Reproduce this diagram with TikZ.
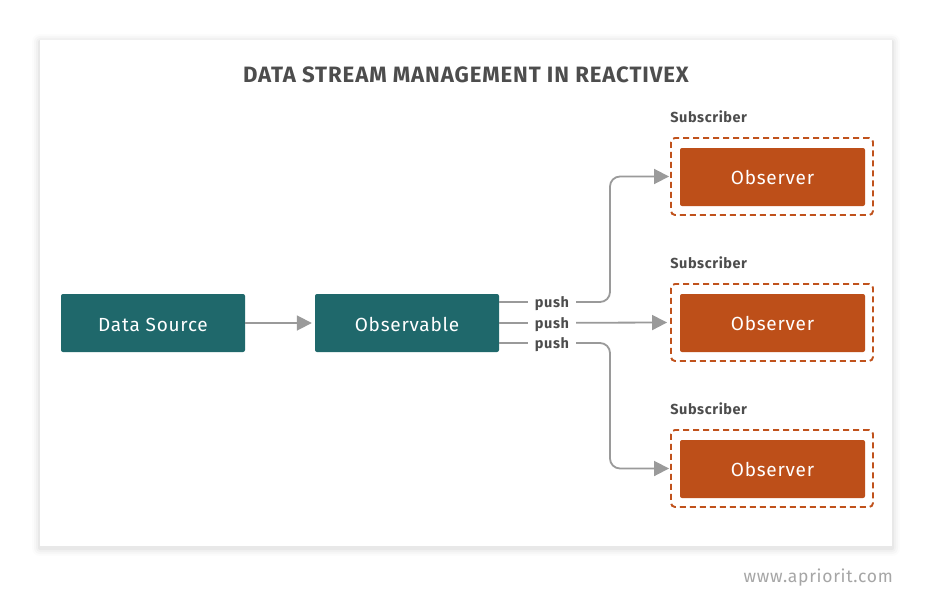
\documentclass[tikz,border=0pt]{standalone}
\usepackage{fontspec}
\setmainfont{Fira Sans}[LetterSpace=4]
\usetikzlibrary{arrows.meta,positioning,calc}
\definecolor{teal1}{HTML}{1F686B}
\definecolor{rust}{HTML}{BD4F19}
\definecolor{dashc}{HTML}{C0521C}
\definecolor{linec}{HTML}{9A9A9A}
\definecolor{txt}{HTML}{4D4D4D}
\tikzset{
  tealbox/.style={draw=none,fill=teal1,rounded corners=2pt,minimum width=184pt,minimum height=58pt,text=white,font=\fontsize{19}{22}\selectfont,text height=17pt,text depth=0pt},
  obsbox/.style={draw=none,fill=rust,rounded corners=2pt,minimum width=185pt,minimum height=58pt,text=white,font=\fontsize{19}{22}\selectfont},
  subbox/.style={draw=dashc,dash pattern=on 6pt off 4pt,line width=1.9pt,rounded corners=4pt,minimum width=202pt,minimum height=77pt},
  sublabel/.style={text=txt,font=\bfseries\fontsize{14.5}{17}\selectfont,anchor=base west,inner sep=0pt},
  conn/.style={draw=linec,line width=1.8pt,-{Triangle[length=15pt,width=15pt]}},
  pushlbl/.style={fill=white,text=txt,font=\bfseries\fontsize{14.5}{17}\selectfont,inner xsep=7pt,inner ysep=1pt,text height=11pt,text depth=0pt}
}
\begin{document}
\begin{tikzpicture}[x=1pt,y=-1pt]
\useasboundingbox (0,0) rectangle (933,610);
\fill[white] (0,0) rectangle (933,610);
% card shadow
\foreach \i/\o in {8/0.012,6/0.018,4/0.025,2/0.035}{
  \fill[black,opacity=\o,rounded corners=\i pt] (40-\i,40-\i+2) rectangle (892+\i,546+\i+2);
}
\fill[white] (40,40) rectangle (892,546);
\node[text=txt,font=\bfseries\fontsize{22.2}{26}\selectfont] (title) at (466,75) {DATA STREAM MANAGEMENT IN REACTIVEX};
\node[tealbox] (ds) at (153,323) {Data Source};
\node[tealbox] (obs) at (407,323) {Observable};
\node[subbox] (sub1) at (772,176.5) {};
\node[subbox] (sub2) at (772,322.5) {};
\node[subbox] (sub3) at (772,468.5) {};
\node[obsbox] (o1) at (772.5,177) {Observer};
\node[obsbox] (o2) at (772.5,323) {Observer};
\node[obsbox] (o3) at (772.5,469) {Observer};
\node[sublabel] (l1) at ([yshift=15pt]sub1.north west) {Subscriber};
\node[sublabel] (l2) at ([yshift=15pt]sub2.north west) {Subscriber};
\node[sublabel] (l3) at ([yshift=15pt]sub3.north west) {Subscriber};
\draw[conn] (ds.east) -- ([xshift=-3pt]obs.west);
\draw[conn,rounded corners=10pt] ([yshift=21pt]obs.east) -- (610,302) -- (610,176.5) -- ([xshift=-1pt]sub1.west);
\draw[conn] (obs.east) -- ([xshift=-3pt]sub2.west);
\draw[conn,rounded corners=10pt] ([yshift=-20pt]obs.east) -- (610,343) -- (610,468.5) -- ([xshift=-1pt]sub3.west);
\node[pushlbl] (p1) at (552,302) {push};
\node[pushlbl] (p2) at (552,323) {push};
\node[pushlbl] (p3) at (552,343) {push};
\node[text=black!35,font=\fontsize{17.5}{20}\selectfont,anchor=east,inner sep=0pt] (url) at (893,578) {www.apriorit.com};
\end{tikzpicture}
\end{document}
